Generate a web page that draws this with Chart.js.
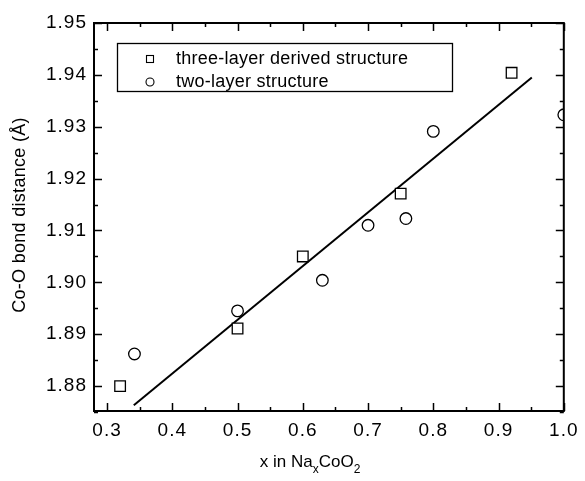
<!DOCTYPE html>
<html>
<head>
  <meta charset="utf-8">
  <title>Co-O bond distance vs x in NaxCoO2</title>
  <script src="https://cdn.jsdelivr.net/npm/chart.js"></script>
  <style>
    html, body { margin: 0; padding: 0; background: #fff; }
    #wrap { width: 585px; height: 481px; }
  </style>
</head>
<body>
  <div id="wrap"><canvas id="bondChart" width="585" height="481"></canvas></div>
  <script>
    // three-layer derived structure
    const threeLayerX = [0.32, 0.50, 0.60, 0.75, 0.92];
    const threeLayerY = [1.8800, 1.8911, 1.9050, 1.9171, 1.9404];

    // two-layer structure
    const twoLayerX = [0.342, 0.50, 0.63, 0.70, 0.758, 0.80, 1.00];
    const twoLayerY = [1.8862, 1.8945, 1.9004, 1.9110, 1.9123, 1.9291, 1.9323];

    // linear fit, end points
    const fitX = [0.341, 0.951];
    const fitY = [1.8763, 1.9395];

    // axis ticks
    const xTicks = [0.3, 0.4, 0.5, 0.6, 0.7, 0.8, 0.9, 1.0];
    const yTicks = [1.88, 1.89, 1.90, 1.91, 1.92, 1.93, 1.94, 1.95];
    const xMinor = [0.35, 0.45, 0.55, 0.65, 0.75, 0.85, 0.95];
    const yMinor = [1.875, 1.885, 1.895, 1.905, 1.915, 1.925, 1.935, 1.945];

    const FONT = 'Liberation Sans, Arial, sans-serif';

    function toPoints(xs, ys) {
      return xs.map((x, i) => ({ x: x, y: ys[i] }));
    }

    // slightly wider lettering for the tick labels
    const spacingPlugin = {
      id: 'spacing',
      beforeDraw(chart) {
        chart.ctx.letterSpacing = '1px';
      }
    };

    // frame + inward ticks on all four sides
    const framePlugin = {
      id: 'frame',
      afterDatasetsDraw(chart) {
        const ctx = chart.ctx;
        const a = chart.chartArea;
        const xs = chart.scales.x;
        const ys = chart.scales.y;
        ctx.save();
        ctx.strokeStyle = '#000';
        ctx.lineWidth = 2;
        ctx.strokeRect(a.left, a.top, a.right - a.left, a.bottom - a.top);

        function tickX(v, len) {
          const px = Math.round(xs.getPixelForValue(v)) + 0.5;
          ctx.beginPath();
          ctx.moveTo(px, a.bottom); ctx.lineTo(px, a.bottom - len);
          ctx.moveTo(px, a.top); ctx.lineTo(px, a.top + len);
          ctx.stroke();
        }
        function tickY(v, len) {
          const py = Math.round(ys.getPixelForValue(v)) + 0.5;
          ctx.beginPath();
          ctx.moveTo(a.left, py); ctx.lineTo(a.left + len, py);
          ctx.moveTo(a.right, py); ctx.lineTo(a.right - len, py);
          ctx.stroke();
        }
        ctx.lineWidth = 1.5;
        xTicks.forEach(v => tickX(v, 8));
        xMinor.forEach(v => tickX(v, 4));
        yTicks.forEach(v => tickY(v, 8));
        yMinor.forEach(v => tickY(v, 4));
        ctx.restore();
      }
    };

    // legend box inside the plot
    const legendPlugin = {
      id: 'boxLegend',
      afterDraw(chart) {
        const ctx = chart.ctx;
        const sets = chart.data.datasets;
        ctx.save();
        ctx.strokeStyle = '#000';
        ctx.lineWidth = 1.3;
        ctx.strokeRect(117.5, 43.5, 335, 48);

        ctx.fillStyle = '#000';
        ctx.font = '18px ' + FONT;
        ctx.letterSpacing = '0.25px';
        ctx.textBaseline = 'middle';
        ctx.fillText(sets[0].label, 176, 59);
        ctx.fillText(sets[1].label, 176, 82);

        ctx.lineWidth = 1.1;
        ctx.strokeRect(146.5, 55.5, 7, 7);
        ctx.beginPath();
        ctx.arc(150, 82, 4, 0, Math.PI * 2);
        ctx.stroke();
        ctx.restore();
      }
    };

    // axis titles, x title has subscripts
    const titlePlugin = {
      id: 'axisTitles',
      afterDraw(chart) {
        const ctx = chart.ctx;
        const a = chart.chartArea;
        ctx.save();
        ctx.fillStyle = '#000';
        ctx.letterSpacing = '0px';
        ctx.textBaseline = 'alphabetic';

        const big = '17px ' + FONT;
        const small = '12px ' + FONT;
        const parts = [
          { t: 'x in Na', f: big, dy: 0 },
          { t: 'x', f: small, dy: 6 },
          { t: 'CoO', f: big, dy: 0 },
          { t: '2', f: small, dy: 6 }
        ];
        let total = 0;
        parts.forEach(p => { ctx.font = p.f; p.w = ctx.measureText(p.t).width; total += p.w; });
        let x = a.left + (a.right - a.left) * 0.46 - total / 2;
        const base = 467;
        parts.forEach(p => {
          ctx.font = p.f;
          ctx.fillText(p.t, x, base + p.dy);
          x += p.w;
        });

        ctx.translate(20, (a.top + a.bottom) / 2 - 2);
        ctx.rotate(-Math.PI / 2);
        ctx.font = '18px ' + FONT;
        ctx.letterSpacing = '0.3px';
        ctx.textAlign = 'center';
        ctx.textBaseline = 'middle';
        ctx.fillText('Co-O bond distance (\u00C5)', 0, 0);
        ctx.restore();
      }
    };

    const chart = new Chart(document.getElementById('bondChart'), {
      type: 'scatter',
      data: {
        datasets: [
          {
            label: 'three-layer derived structure',
            data: toPoints(threeLayerX, threeLayerY),
            pointStyle: 'rect',
            pointRadius: 7.5,
            pointHoverRadius: 7.5,
            borderColor: '#000',
            backgroundColor: '#fff',
            borderWidth: 1.3,
            clip: 0
          },
          {
            label: 'two-layer structure',
            data: toPoints(twoLayerX, twoLayerY),
            pointStyle: 'circle',
            pointRadius: 5.8,
            pointHoverRadius: 5.8,
            borderColor: '#000',
            backgroundColor: '#fff',
            borderWidth: 1.3,
            clip: 0
          },
          {
            type: 'line',
            label: 'fit',
            data: toPoints(fitX, fitY),
            borderColor: '#000',
            borderWidth: 2,
            pointRadius: 0,
            fill: false,
            clip: 0
          }
        ]
      },
      options: {
        responsive: false,
        animation: false,
        events: [],
        layout: { padding: { top: 23, right: 16, left: 0, bottom: 0 } },
        plugins: {
          legend: { display: false },
          tooltip: { enabled: false }
        },
        scales: {
          x: {
            type: 'linear',
            min: 0.28,
            max: 1.0,
            grid: { display: false, drawTicks: false },
            border: { display: false },
            afterBuildTicks: s => { s.ticks = xTicks.map(v => ({ value: v })); },
            afterFit: s => { s.height = 70; },
            ticks: {
              color: '#000',
              padding: 8,
              maxRotation: 0,
              font: { family: FONT, size: 19 },
              callback: v => v.toFixed(1)
            }
          },
          y: {
            type: 'linear',
            min: 1.8752,
            max: 1.95,
            grid: { display: false, drawTicks: false },
            border: { display: false },
            afterBuildTicks: s => { s.ticks = yTicks.map(v => ({ value: v })); },
            afterFit: s => { s.width = 94; },
            ticks: {
              color: '#000',
              padding: 7,
              font: { family: FONT, size: 19 },
              callback: v => v.toFixed(2)
            }
          }
        }
      },
      plugins: [spacingPlugin, framePlugin, legendPlugin, titlePlugin]
    });
  </script>
</body>
</html>
